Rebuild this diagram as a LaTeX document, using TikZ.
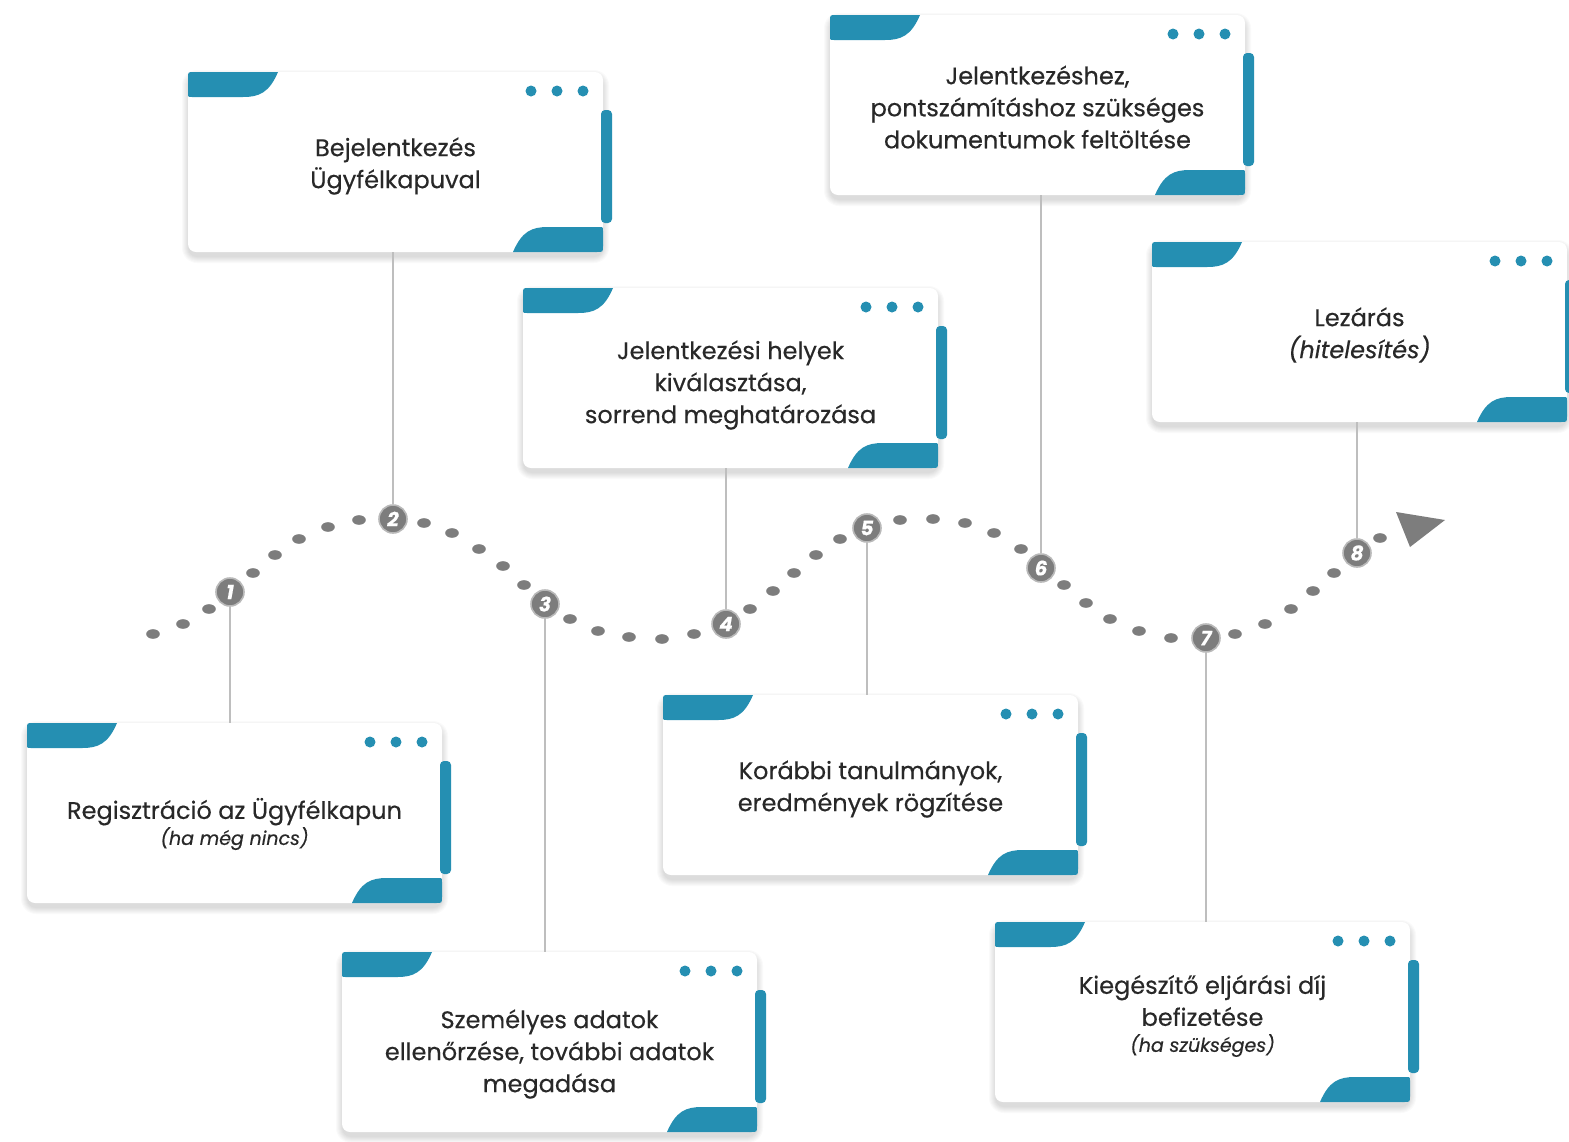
\documentclass[tikz,border=0pt]{standalone}
\usepackage{fontspec}
\setmainfont{Poppins}[FakeBold=0.35]
\definecolor{cteal}{RGB}{37,143,178}
\definecolor{cgrey}{RGB}{125,125,125}
\definecolor{cring}{RGB}{185,185,185}
\definecolor{clinecol}{RGB}{190,190,190}
\definecolor{ctext}{RGB}{40,40,40}
\newcommand\mycard[5]{%
  \begin{scope}[shift={(#2,#3)}]
    \foreach \i in {1,...,7} {\fill[black,opacity=0.02,rounded corners=8+\i] (-\i+1,-\i+5) rectangle (415+\i-1,180+\i+4);}
    \node[cardbody] (#1) at (207.5,90) {};
    \node[cardtext] (#1t) at (207.5,90+#4) {#5};
    \fill[cteal] (0,21) -- (0,6) .. controls (0,0) .. (6,0) -- (90,0) .. controls (81,21) and (71,25) .. (55,25) -- (4,25) .. controls (0,25) .. (0,21) -- cycle;
    \fill[cteal] (415,159) -- (415,174) .. controls (415,180) .. (409,180) -- (325,180) .. controls (334,159) and (344,155) .. (360,155) -- (411,155) .. controls (415,155) .. (415,159) -- cycle;
    \fill[cteal, rounded corners=4] (413,38) rectangle (424,151);
    \foreach \dx in {20,46,72} {\fill[cteal] (415-\dx,19) circle [radius=5.5];}
  \end{scope}}
\begin{document}
\begin{tikzpicture}[x=1pt,y=-1pt,
  cardbody/.style={fill=white, rounded corners=8, minimum width=415pt, minimum height=180pt, inner sep=0pt},
  cardtext/.style={inner sep=0pt, align=center, text=ctext, font=\fontsize{24}{32}\selectfont},
  numc/.style={circle, fill=cgrey, draw=cring, line width=1.6pt, minimum size=28pt, inner sep=0pt, text=white, font=\fontsize{20}{20}\selectfont\bfseries\itshape},
  cl/.style={draw=clinecol, line width=1.8pt}]
\useasboundingbox[fill=white] (0,0) rectangle (1569,1141);

% wavy dotted path
\foreach \x/\y in {153/634,183/624,209/609,253/573,275/555,299/539,328/527,359/520,424/523,452/533,479/549,503/566,524/585,570/619,598/631,629/637,662/639,694/634,750/609,773/591,794/573,816/555,840/539,900/520,933/519,965/523,994/533,1021/549,1064/585,1086/603,1110/619,1139/631,1171/638,1235/634,1265/624,1291/609,1313/591,1334/573,1380/538}
  {\fill[cgrey] (\x,\y) ellipse [x radius=6.8, y radius=4.8];}
\coordinate (a1) at (1396,512);
\coordinate (a2) at (1445,520);
\coordinate (a3) at (1410,547);
\fill[cgrey] (a1) -- (a2) -- (a3) -- cycle;

% cards
\mycard{c1}{27}{723}{11}{Regisztráció az Ügyfélkapun\\[-6pt]{\fontsize{19}{24}\selectfont\itshape (ha még nincs)}}
\mycard{c2}{188}{72}{4}{Bejelentkezés\\Ügyfélkapuval}
\mycard{c3}{342}{952}{12}{Személyes adatok\\ellenőrzése, további adatok\\megadása}
\mycard{c4}{523}{288}{7}{Jelentkezési helyek\\kiválasztása,\\sorrend meghatározása}
\mycard{c5}{663}{695}{4}{Korábbi tanulmányok,\\eredmények rögzítése}
\mycard{c6}{830}{15}{2}{Jelentkezéshez,\\pontszámításhoz szükséges\\dokumentumok feltöltése}
\mycard{c7}{995}{922}{4}{Kiegészítő eljárási díj\\befizetése\\[-6pt]{\fontsize{19}{24}\selectfont\itshape (ha szükséges)}}
\mycard{c8}{1152}{242}{3}{Lezárás\\{\itshape (hitelesítés)}}

% numbered markers
\node[numc] (n1) at (230,592) {1};
\node[numc] (n2) at (393,519) {2};
\node[numc] (n3) at (545,604) {3};
\node[numc] (n4) at (726,624) {4};
\node[numc] (n5) at (867,528) {5};
\node[numc] (n6) at (1041,568) {6};
\node[numc] (n7) at (1206,638) {7};
\node[numc] (n8) at (1357,553) {8};

% connectors
\draw[cl] (n1) -- (n1 |- c1.north);
\draw[cl] (c2.south -| n2) -- (n2);
\draw[cl] (n3) -- (n3 |- c3.north);
\draw[cl] (c4.south -| n4) -- (n4);
\draw[cl] (n5) -- (n5 |- c5.north);
\draw[cl] (c6.south -| n6) -- (n6);
\draw[cl] (n7) -- (n7 |- c7.north);
\draw[cl] (c8.south -| n8) -- (n8);
\end{tikzpicture}
\end{document}
